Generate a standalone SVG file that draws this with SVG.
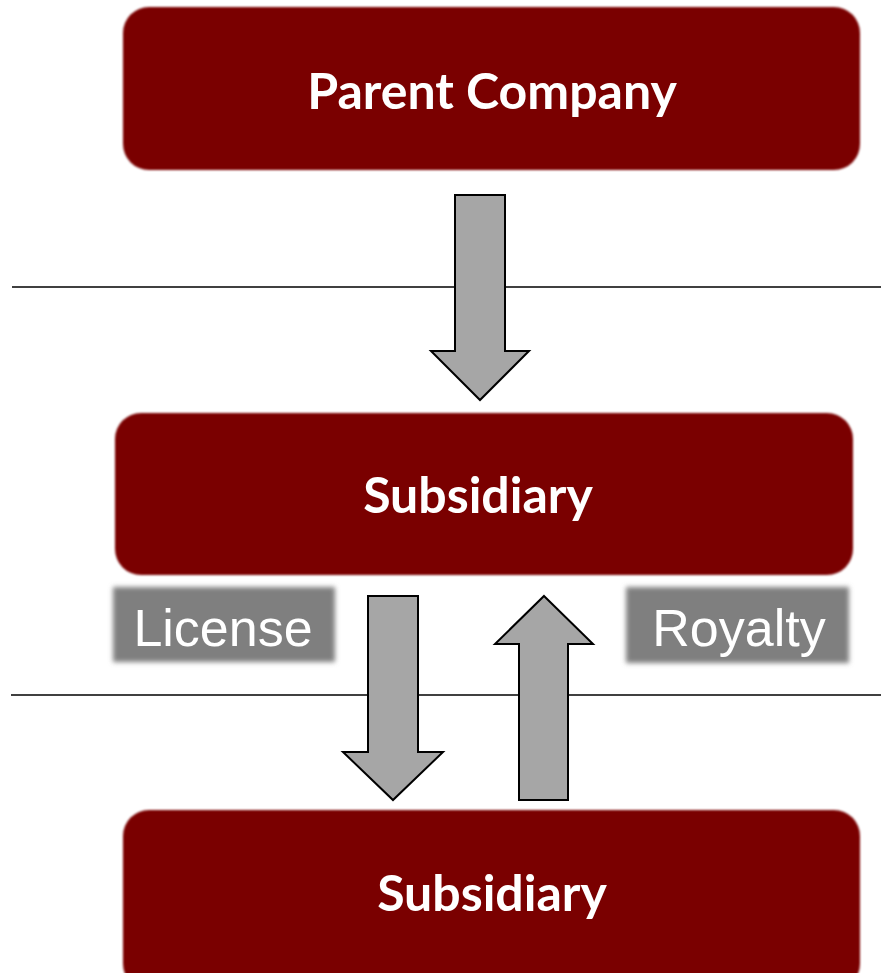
<svg xmlns="http://www.w3.org/2000/svg" width="881" height="973" viewBox="0 0 881 973">
  <style>
    .box { fill: #7A0406; filter: url(#soft); }
    .tag { fill: #7F7F7F; filter: url(#softer); }
    .title { font-family: Lato, "Open Sans", "Liberation Sans", sans-serif; font-weight: 700; font-size: 50px; fill: #FFFFFF; text-anchor: middle; }
    .label { font-family: "Liberation Sans", Arial, sans-serif; font-size: 52px; fill: #FFFFFF; text-anchor: middle; }
    .arrow { fill: #A6A6A6; stroke: #000000; stroke-width: 2; stroke-linejoin: miter; }
    .rule { stroke: #000000; stroke-width: 1.5; fill: none; }
  </style>
  <defs>
    <filter id="soft" x="-5%" y="-5%" width="110%" height="110%">
      <feGaussianBlur stdDeviation="1.3"/>
    </filter>
    <filter id="softer" x="-10%" y="-20%" width="120%" height="140%">
      <feGaussianBlur stdDeviation="2.5"/>
    </filter>
  </defs>
  <rect width="881" height="973" fill="#FFFFFF"/>

  <!-- horizontal level rules -->
  <g id="rules">
    <line class="rule" x1="12" y1="287" x2="881" y2="287"/>
    <line class="rule" x1="11" y1="695" x2="881" y2="695"/>
  </g>

  <g id="parent">
    <rect class="box" x="123" y="7" width="737" height="163" rx="26"/>
    <text class="title" x="492" y="109">Parent Company</text>
  </g>

  <g id="subsidiary-1">
    <rect class="box" x="115" y="413" width="738" height="162" rx="26"/>
    <text class="title" x="478" y="513">Subsidiary</text>
  </g>

  <g id="subsidiary-2">
    <rect class="box" x="123" y="810" width="737" height="180" rx="26"/>
    <text class="title" x="492" y="911">Subsidiary</text>
  </g>

  <g id="license">
    <rect class="tag" x="113" y="587" width="222" height="75"/>
    <text class="label" x="223" y="646">License</text>
  </g>

  <g id="royalty">
    <rect class="tag" x="626" y="587" width="223" height="76"/>
    <text class="label" x="739" y="646">Royalty</text>
  </g>

  <!-- block arrows -->
  <g id="connectors">
    <polygon class="arrow" points="455,195 505,195 505,351 529,351 480,400 431,351 455,351"/>
    <polygon class="arrow" points="368,596 418,596 418,752 443,752 393,800 343,752 368,752"/>
    <polygon class="arrow" points="544,596 593,644 568,644 568,800 519,800 519,644 495,644"/>
  </g>
</svg>
